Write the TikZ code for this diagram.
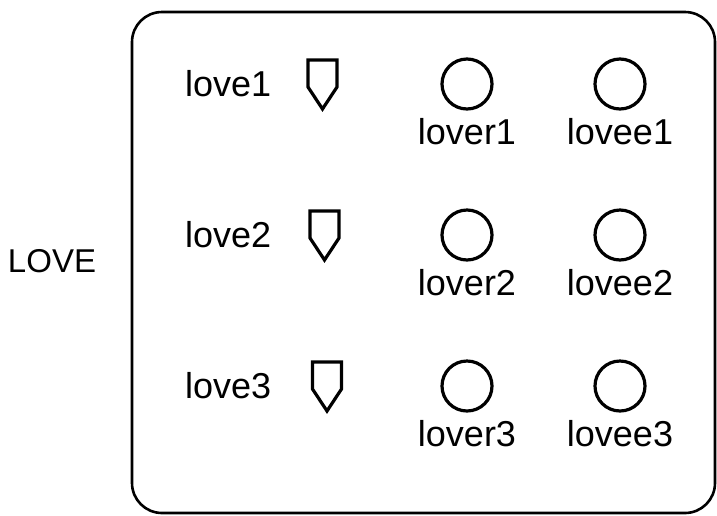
\documentclass[tikz,border=0pt]{standalone}
\usepackage{fontspec}
\setmainfont{Liberation Sans}
\usetikzlibrary{positioning}

\begin{document}
\begin{tikzpicture}[x=1pt, y=-1pt,
  every node/.style={inner sep=0pt},
  lbl/.style={font=\fontsize{36}{40}\selectfont},
  slot/.style={draw, circle, line width=3.2pt, minimum size=50pt},
  tag/.style={draw, line width=3.2pt, line join=miter}]
  \useasboundingbox (0,0) rectangle (717,515);
  % frame and its name
  \draw[line width=2.6pt, rounded corners=30pt] (132,12) rectangle (715,513);
  \node[font=\fontsize{33}{36}\selectfont] (love) at (52,261) {LOVE};
  % one row per tuple
  \foreach \i/\y/\t in {1/84/322.5, 2/235/324.5, 3/386/327} {
    \node[lbl, anchor=west] (love\i) at (185,\y) {love\i};
    \coordinate (tag\i) at (\t,\y);
    \draw[tag, shift={(tag\i)}]
      (-14.5,-24) -- (14.5,-24) -- (14.5,3) -- (0,25) -- (-14.5,3) -- cycle;
    \node[slot] (lover\i) at (467,\y) {};
    \node[slot] (lovee\i) at (620,\y) {};
    \node[lbl, below=8pt of lover\i] (lover\i-lbl) {lover\i};
    \node[lbl, below=8pt of lovee\i] (lovee\i-lbl) {lovee\i};
  }
\end{tikzpicture}
\end{document}
